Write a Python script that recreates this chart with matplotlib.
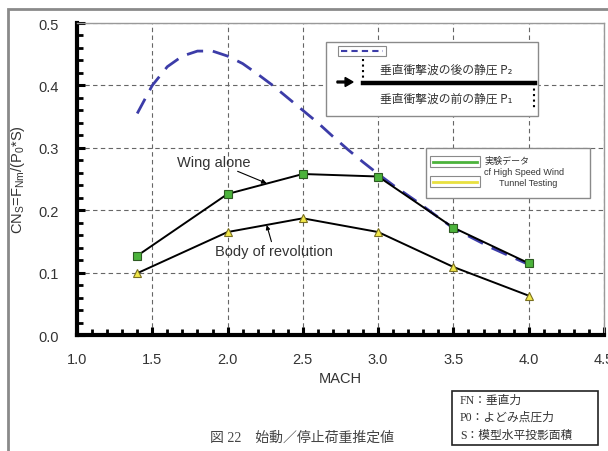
import matplotlib.pyplot as plt
from matplotlib.patches import Rectangle, FancyArrow
from matplotlib.lines import Line2D
from matplotlib.ticker import MultipleLocator

# 風洞試験データ (cf High Speed Wind Tunnel Testing)
mach = [1.4, 2.0, 2.5, 3.0, 3.5, 4.0]
wing_alone = [0.127, 0.226, 0.258, 0.254, 0.172, 0.115]
body_of_rev = [0.099, 0.165, 0.187, 0.165, 0.109, 0.063]

# 垂直衝撃波前後の静圧から求めた推定曲線
est_mach = [1.4, 1.5, 1.6, 1.7, 1.8, 1.9, 2.0, 2.1, 2.2, 2.3, 2.4, 2.5,
            2.6, 2.7, 2.8, 2.9, 3.0, 3.1, 3.25, 3.5, 3.75, 4.0]
est_cn = [0.355, 0.400, 0.430, 0.447, 0.455, 0.455, 0.447, 0.435, 0.418,
          0.400, 0.380, 0.360, 0.340, 0.318, 0.297, 0.277, 0.258, 0.240,
          0.215, 0.171, 0.140, 0.113]

x_ticks = [1.0, 1.5, 2.0, 2.5, 3.0, 3.5, 4.0, 4.5]
y_ticks = [0.0, 0.1, 0.2, 0.3, 0.4, 0.5]

W, H = 608, 452
JP = ['Noto Sans CJK JP', 'DejaVu Sans']
JP_SERIF = ['Liberation Serif', 'Noto Sans CJK JP']
TXT = '#333333'

plt.rcParams['font.family'] = ['Liberation Sans', 'DejaVu Sans']


def px(x, y):
    return x / W, 1 - y / H


def fig_rect(fig, x0, y0, x1, y1, **kw):
    fx0, fy1 = px(x0, y0)
    fx1, fy0 = px(x1, y1)
    r = Rectangle((fx0, fy0), fx1 - fx0, fy1 - fy0, transform=fig.transFigure, **kw)
    fig.add_artist(r)
    return r


def fig_line(fig, xs, ys, **kw):
    pts = [px(x, y) for x, y in zip(xs, ys)]
    fig.add_artist(Line2D([p[0] for p in pts], [p[1] for p in pts],
                          transform=fig.transFigure, **kw))


fig = plt.figure(figsize=(W / 100, H / 100), dpi=100)
fig.patch.set_facecolor('white')
ax = fig.add_axes([77 / W, 1 - 336 / H, (604 - 77) / W, (336 - 24) / H])

ax.plot(est_mach, est_cn, color='#3c3ca8', lw=2, dashes=(6, 3.5), zorder=2)
ax.plot(mach, wing_alone, color='black', lw=1.4, marker='s', ms=6,
        mfc='#4cb33c', mec='#2d5a22', mew=0.8, zorder=3)
ax.plot(mach, body_of_rev, color='black', lw=1.4, marker='^', ms=6,
        mfc='#f2e84a', mec='#7a7020', mew=0.8, zorder=3)

ax.set_xlim(1.0, 4.5)
ax.set_ylim(0.0, 0.5)
ax.set_xticks(x_ticks)
ax.set_yticks(y_ticks)
ax.set_xticklabels([f'{v:.1f}' for v in x_ticks])
ax.set_yticklabels([f'{v:.1f}' for v in y_ticks])
ax.xaxis.set_minor_locator(MultipleLocator(0.1))
ax.yaxis.set_minor_locator(MultipleLocator(0.02))
ax.tick_params(which='both', direction='in', color='black', top=False, right=False)
ax.tick_params(which='major', length=6, width=2.2, labelsize=10.5, labelcolor=TXT)
ax.tick_params(axis='x', which='major', pad=12)
ax.tick_params(axis='y', which='major', pad=13)
ax.tick_params(which='minor', length=4.5, width=2)

for side in ('left', 'bottom'):
    ax.spines[side].set_linewidth(3)
    ax.spines[side].set_color('black')
for side in ('top', 'right'):
    ax.spines[side].set_linewidth(1)
    ax.spines[side].set_color('#999999')

ax.grid(True, which='major', color='#666666', lw=0.8, dashes=(4, 3))
ax.set_axisbelow(True)

ax.set_xlabel('MACH', fontsize=10.5, color=TXT, labelpad=4)
ax.set_ylabel(r'CN$_\mathregular{S}$=F$_\mathregular{Nm}$/(P$_\mathregular{0}$*S)',
              fontsize=10.5, color=TXT, labelpad=8)

ax.annotate('Wing alone', xy=(2.26, 0.243), xytext=(1.91, 0.278),
            ha='center', va='center', fontsize=10.5, color=TXT,
            arrowprops=dict(arrowstyle='-|>', color='black', lw=0.8,
                            mutation_scale=7, shrinkA=0, shrinkB=0))
ax.annotate('Body of revolution', xy=(2.26, 0.176), xytext=(2.31, 0.134),
            ha='center', va='center', fontsize=10.5, color=TXT,
            arrowprops=dict(arrowstyle='-|>', color='black', lw=0.8,
                            mutation_scale=6, shrinkA=0, shrinkB=0))

# 外枠
fig_rect(fig, 8, 10, 640, 480, fill=False, ec='#8a8a8a', lw=2)

# 衝撃波の説明図
fig_rect(fig, 326, 43, 538, 117, fc='white', ec='#8a8a8a', lw=1, zorder=5)
fig_rect(fig, 338, 47, 386, 57, fc='white', ec='#8a8a8a', lw=0.8, zorder=6)
fig_line(fig, [341, 383], [52, 52], color='#3c3ca8', lw=1.5, dashes=(3, 2), zorder=7)
fig_line(fig, [363, 363], [60, 84], color='black', lw=1.5, ls=':', zorder=7)
fig_line(fig, [363, 535], [84, 84], color='black', lw=3.2, zorder=7)
fig_line(fig, [534, 534], [84, 111], color='black', lw=1.5, ls=':', zorder=7)
ax0, ay0 = px(337, 83)
ax1, _ = px(353, 83)
fig.add_artist(FancyArrow(ax0, ay0, ax1 - ax0, 0, width=0.004, head_width=0.02,
                          head_length=0.013, length_includes_head=True,
                          color='black', transform=fig.transFigure, zorder=7))
fig.text(*px(446, 70), '垂直衝撃波の後の静圧 P₂', family=JP, fontsize=8.5,
         color=TXT, ha='center', va='center', zorder=7)
fig.text(*px(446, 99), '垂直衝撃波の前の静圧 P₁', family=JP, fontsize=8.5,
         color=TXT, ha='center', va='center', zorder=7)

# 凡例
fig_rect(fig, 426, 149, 590, 199, fc='white', ec='#8a8a8a', lw=1, zorder=5)
fig_rect(fig, 430, 157, 480, 168, fc='white', ec='#8a8a8a', lw=0.8, zorder=6)
fig_rect(fig, 430, 177, 480, 188, fc='white', ec='#8a8a8a', lw=0.8, zorder=6)
fig_line(fig, [433, 477], [162.5, 162.5], color='#4cb33c', lw=2, zorder=7)
fig_line(fig, [433, 477], [182.5, 182.5], color='#e8e040', lw=2, zorder=7)
fig.text(*px(485, 161), '実験データ', family=JP, fontsize=6.5, color=TXT,
         ha='left', va='center', zorder=7)
fig.text(*px(484, 173), 'cf High Speed Wind', fontsize=6.5, color=TXT,
         ha='left', va='center', zorder=7)
fig.text(*px(499, 184), 'Tunnel Testing', fontsize=6.5, color=TXT,
         ha='left', va='center', zorder=7)

# 記号の説明
fig_rect(fig, 452, 392, 598, 446, fc='white', ec='#222222', lw=1.2, zorder=5)
for yy, s in [(401, 'FN：垂直力'), (418, 'P0：よどみ点圧力'), (436, 'S：模型水平投影面積')]:
    fig.text(*px(460, yy), s, family=JP_SERIF, fontsize=8.5, color=TXT,
             ha='left', va='center', zorder=7)

fig.text(*px(210, 438), '図 22　始動／停止荷重推定値', family=JP_SERIF,
         fontsize=10, color='#444444', ha='left', va='center')

fig.savefig('out.png', dpi=100)
